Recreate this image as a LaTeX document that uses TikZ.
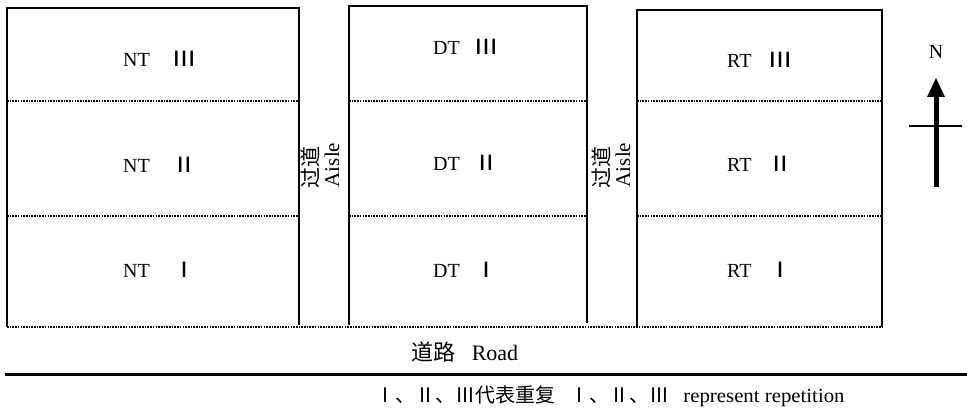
\documentclass[tikz,border=0pt]{standalone}
\usepackage{fontspec}
\usepackage{graphicx}
\setmainfont{Liberation Serif}
\newfontfamily\cjk{Noto Sans CJK SC}
\newcommand{\rnum}[1]{\scalebox{1.3}[1.05]{\cjk #1}}
\begin{document}
\begin{tikzpicture}[x=1pt,y=-1pt,
  wall/.style={line width=1.7pt},
  divline/.style={line width=1.3pt, dash pattern=on 1.6pt off 1.1pt},
  lab/.style={anchor=west, inner sep=0pt, font=\fontsize{20}{20}\selectfont},
  aisle/.style={rotate=90, inner sep=0pt, font=\fontsize{21}{21}\selectfont},
  txt/.style={inner sep=0pt}]
\useasboundingbox (0,0) rectangle (967,409);
% block corners
\coordinate (nA) at (7,327); \coordinate (nB) at (7,8); \coordinate (nC) at (299,8); \coordinate (nD) at (299,325);
\coordinate (dA) at (349,325); \coordinate (dB) at (349,6); \coordinate (dC) at (587,6); \coordinate (dD) at (587,323);
\coordinate (rA) at (637,327); \coordinate (rB) at (637,10); \coordinate (rC) at (882,10); \coordinate (rD) at (882,327);
\draw[wall] (nA) -- (nB) -- (nC) -- (nD);
\draw[wall] (dA) -- (dB) -- (dC) -- (dD);
\draw[wall] (rA) -- (rB) -- (rC) -- (rD);
% dotted divisions
\coordinate (n1l) at (7,101); \coordinate (n1r) at (299,101);
\coordinate (n2l) at (7,216); \coordinate (n2r) at (299,216);
\coordinate (d1l) at (349,101); \coordinate (d1r) at (587,101);
\coordinate (d2l) at (349,216); \coordinate (d2r) at (587,216);
\coordinate (r1l) at (637,101); \coordinate (r1r) at (882,101);
\coordinate (r2l) at (637,216); \coordinate (r2r) at (882,216);
\draw[divline] (n1l) -- (n1r); \draw[divline] (n2l) -- (n2r);
\draw[divline] (d1l) -- (d1r); \draw[divline] (d2l) -- (d2r);
\draw[divline] (r1l) -- (r1r); \draw[divline] (r2l) -- (r2r);
\draw[divline] (nA) -- (rD);
% road line
\coordinate (roadL) at (5,374); \coordinate (roadR) at (967,374);
\draw[line width=3pt] (roadL) -- (roadR);
% plot labels
\node[lab] (nt3) at (123,59) {NT\hspace{22pt}\rnum{Ⅲ}};
\node[lab] (nt2) at (123,165) {NT\hspace{22pt}\rnum{Ⅱ}};
\node[lab] (nt1) at (123,270) {NT\hspace{22pt}\rnum{Ⅰ}};
\node[lab] (dt3) at (433,47) {DT\hspace{14pt}\rnum{Ⅲ}};
\node[lab] (dt2) at (433,163) {DT\hspace{14pt}\rnum{Ⅱ}};
\node[lab] (dt1) at (433,270) {DT\hspace{14pt}\rnum{Ⅰ}};
\node[lab] (rt3) at (727,60) {RT\hspace{16pt}\rnum{Ⅲ}};
\node[lab] (rt2) at (727,164) {RT\hspace{16pt}\rnum{Ⅱ}};
\node[lab] (rt1) at (727,270) {RT\hspace{16pt}\rnum{Ⅰ}};
% aisles
\node[aisle] (a1c) at (310,168) {\cjk 过道};
\node[aisle] (a1e) at (332,165) {Aisle};
\node[aisle] (a2c) at (601,168) {\cjk 过道};
\node[aisle] (a2e) at (623,165) {Aisle};
% north arrow
\node[txt, font=\fontsize{20}{20}\selectfont] (N) at (936,52) {N};
\coordinate (ns) at (936,187); \coordinate (nt) at (936,78);
\coordinate (cl) at (909,126); \coordinate (cr) at (962,126);
\draw[line width=1.7pt] (cl) -- (cr);
\draw[line width=5pt] (ns) -- (936,94);
\fill (927,97) -- (nt) -- (945,97) -- cycle;
% road text and note
\node[txt, font=\fontsize{22}{22}\selectfont] (road) at (465,352) {{\cjk 道路}\hspace{16pt}Road};
\node[txt, font=\fontsize{20}{20}\selectfont] (note) at (610,396) {{\cjk Ⅰ、Ⅱ、Ⅲ代表重复}\hspace{14pt}{\cjk Ⅰ、Ⅱ、Ⅲ}\hspace{14pt}\scalebox{1.04}[1]{represent repetition}};
\end{tikzpicture}
\end{document}
